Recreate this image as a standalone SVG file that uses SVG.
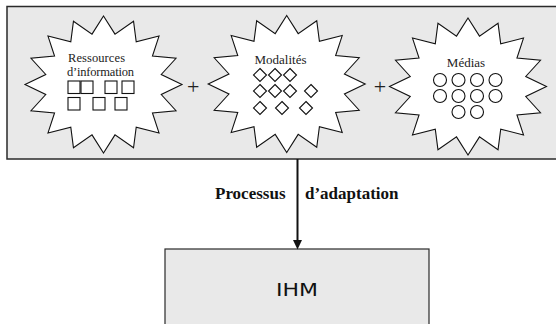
<svg xmlns="http://www.w3.org/2000/svg" xmlns:xlink="http://www.w3.org/1999/xlink" width="556" height="324" viewBox="0 0 556 324">
<style>
.panel{fill:#e9e9e9;stroke:#2a2a2a;stroke-width:1.5}
.star{fill:#ffffff;stroke:#111;stroke-width:1.1;stroke-linejoin:miter}
.lbl{font-family:"Liberation Serif","Times New Roman",serif;font-size:12.5px;fill:#222}
.plus{font-family:"Liberation Serif","Times New Roman",serif;font-size:22px;fill:#222;text-anchor:middle}
.sq{fill:#fff;stroke:#111;stroke-width:1.1}
.edge{stroke:#111;stroke-width:2;fill:none}
.elbl{font-family:"Liberation Serif","Times New Roman",serif;font-size:17px;font-weight:bold;fill:#111}
.ihm{font-family:"DejaVu Sans","Liberation Sans",sans-serif;font-size:18px;fill:#111}
</style>
<defs>
<polygon id="star" points="0,-68.5 11.49,-50.39 30.04,-63.29 32.71,-42.72 55.51,-48.44 48.95,-28.54 72.52,-26.21 57.74,-10.02 78.5,0 57.74,10.02 72.52,26.21 48.95,28.54 55.51,48.44 32.71,42.72 30.04,63.29 11.49,50.39 0,68.5 -11.49,50.39 -30.04,63.29 -32.71,42.72 -55.51,48.44 -48.95,28.54 -72.52,26.21 -57.74,10.02 -78.5,0 -57.74,-10.02 -72.52,-26.21 -48.95,-28.54 -55.51,-48.44 -32.71,-42.72 -30.04,-63.29 -11.49,-50.39"/>
<rect id="sqr" width="12" height="12.5"/>
<polygon id="dia" points="0,-6.5 6.5,0 0,6.5 -6.5,0"/>
<circle id="cir" r="6.5"/>
</defs>

<g id="panel">
<rect class="panel" x="7" y="6.5" width="560" height="152.5"/>
<text class="plus" x="193.3" y="94">+</text>
<text class="plus" x="380" y="94">+</text>
</g>

<g id="ressources">
<use xlink:href="#star" href="#star" class="star" x="103.5" y="84.5"/>
<text class="lbl" x="68" y="61.5" textLength="57">Ressources</text>
<text class="lbl" x="67" y="75.5" textLength="67">d’information</text>
<g class="sq">
<use href="#sqr" xlink:href="#sqr" x="68" y="81"/>
<use href="#sqr" xlink:href="#sqr" x="81" y="81"/>
<use href="#sqr" xlink:href="#sqr" x="105" y="81"/>
<use href="#sqr" xlink:href="#sqr" x="122" y="81"/>
<use href="#sqr" xlink:href="#sqr" x="68" y="97.5"/>
<use href="#sqr" xlink:href="#sqr" x="93" y="97.5"/>
<use href="#sqr" xlink:href="#sqr" x="115" y="97.5"/>
</g>
</g>

<g id="modalites">
<use xlink:href="#star" href="#star" class="star" x="286.7" y="84"/>
<text class="lbl" x="280.5" y="64" text-anchor="middle" style="font-size:13px">Modalités</text>
<g class="sq">
<use href="#dia" xlink:href="#dia" x="260" y="75"/>
<use href="#dia" xlink:href="#dia" x="275" y="75"/>
<use href="#dia" xlink:href="#dia" x="290" y="75"/>
<use href="#dia" xlink:href="#dia" x="260" y="91"/>
<use href="#dia" xlink:href="#dia" x="275" y="91"/>
<use href="#dia" xlink:href="#dia" x="290" y="91"/>
<use href="#dia" xlink:href="#dia" x="311" y="91"/>
<use href="#dia" xlink:href="#dia" x="260" y="108"/>
<use href="#dia" xlink:href="#dia" x="282" y="108"/>
<use href="#dia" xlink:href="#dia" x="306" y="108"/>
</g>
</g>

<g id="medias">
<use xlink:href="#star" href="#star" class="star" x="468" y="86.5"/>
<text class="lbl" x="466" y="67" text-anchor="middle" style="font-size:13px">Médias</text>
<g class="sq">
<use href="#cir" xlink:href="#cir" x="440" y="80"/>
<use href="#cir" xlink:href="#cir" x="458.5" y="80"/>
<use href="#cir" xlink:href="#cir" x="477" y="80"/>
<use href="#cir" xlink:href="#cir" x="495.5" y="80"/>
<use href="#cir" xlink:href="#cir" x="440" y="96"/>
<use href="#cir" xlink:href="#cir" x="458.5" y="96"/>
<use href="#cir" xlink:href="#cir" x="477" y="96"/>
<use href="#cir" xlink:href="#cir" x="495.5" y="96"/>
<use href="#cir" xlink:href="#cir" x="458.5" y="112"/>
<use href="#cir" xlink:href="#cir" x="477" y="112"/>
</g>
</g>

<g id="ihm">
<rect class="panel" x="165" y="249" width="264" height="90" style="stroke-width:1.2"/>
<text class="ihm" x="276" y="296" textLength="42" lengthAdjust="spacingAndGlyphs">IHM</text>
</g>

<g id="connectors">
<line class="edge" x1="297.5" y1="159" x2="297.5" y2="241"/>
<polygon points="293,240 302,240 297.5,249.5" fill="#111"/>
<text class="elbl" x="215" y="199">Processus</text>
<text class="elbl" x="305" y="199">d’adaptation</text>
</g>
</svg>
